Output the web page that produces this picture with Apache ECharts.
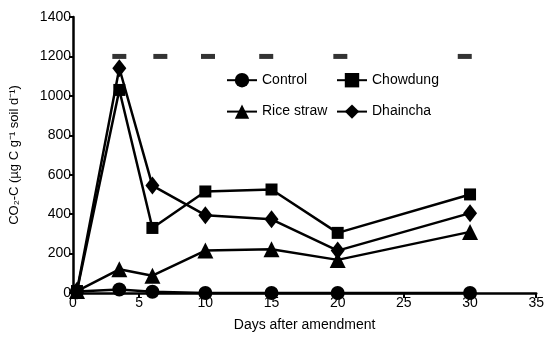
<!DOCTYPE html>
<html>
<head>
<meta charset="utf-8">
<script src="https://cdn.jsdelivr.net/npm/echarts@6/dist/echarts.min.js"></script>
<style>
html,body{margin:0;padding:0;background:#fff;}
#chart{width:547px;height:337px;}
</style>
</head>
<body>
<div id="chart"></div>
<script>
const days = [0.3, 3.5, 6, 10, 15, 20, 30];
const control = [8, 18, 6, 0, 0, 0, 0];
const chowdung = [10, 1030, 330, 515, 525, 305, 500];
const riceStraw = [10, 120, 88, 215, 222, 168, 310];
const dhaincha = [12, 1140, 545, 395, 374, 215, 405];
const sigDays = [3.5, 6.6, 10.2, 14.6, 20.2, 29.6];
const sigValues = [1200, 1200, 1200, 1200, 1200, 1200];
const xTicks = [0, 5, 10, 15, 20, 25, 30, 35];
const yTicks = [0, 200, 400, 600, 800, 1000, 1200, 1400];

const FONT = '"Liberation Sans", Arial, sans-serif';
function pairs(xs, ys){ return xs.map((x,i)=>[x, ys[i]]); }

const lineStyle = {color:'#000', width:2.5};
function mk(name, vals, symbol, size){
  return {
    name, type:'line', data:pairs(days, vals), symbol, symbolSize:size,
    lineStyle, itemStyle:{color:'#000'}, clip:false, z:3
  };
}

const legendText = {fontFamily:FONT, fontSize:14, color:'#000'};
const chart = echarts.init(document.getElementById('chart'), null, {renderer:'canvas'});
chart.setOption({
  animation:false,
  backgroundColor:'#fff',
  grid:{left:71, right:9, top:17, bottom:42, containLabel:false},
  xAxis:{
    type:'value', min:xTicks[0], max:xTicks[xTicks.length-1], interval:5,
    name:'Days after amendment', nameLocation:'middle', nameGap:25,
    nameTextStyle:{fontFamily:FONT, fontSize:14, color:'#000'},
    axisLine:{onZero:false, lineStyle:{color:'#000', width:2.5}},
    axisTick:{show:true, length:5, lineStyle:{color:'#000', width:2}},
    axisLabel:{fontFamily:FONT, fontSize:14, color:'#000', margin:3, formatter:v=>String(v)},
    splitLine:{show:false}
  },
  yAxis:{
    type:'value', min:yTicks[0], max:yTicks[yTicks.length-1], interval:200,
    name:'CO₂-C (µg C g⁻¹ soil d⁻¹)', nameLocation:'middle', nameGap:52, nameRotate:90,
    nameTextStyle:{fontFamily:FONT, fontSize:13, color:'#000'},
    axisLine:{show:true, lineStyle:{color:'#000', width:2.5}},
    axisTick:{show:true, length:4, lineStyle:{color:'#000', width:2}},
    axisLabel:{fontFamily:FONT, fontSize:14, color:'#000', margin:2, formatter:v=>String(v)},
    splitLine:{show:false}
  },
  legend:[
    {data:['Control','Rice straw'], orient:'vertical', left:226, top:73, padding:0,
     itemWidth:30, itemHeight:18, itemGap:17, textStyle:legendText},
    {data:['Chowdung','Dhaincha'], orient:'vertical', left:336, top:73, padding:0,
     itemWidth:30, itemHeight:18, itemGap:17, textStyle:legendText}
  ],
  series:[
    mk('Control', control, 'circle', 14),
    mk('Chowdung', chowdung, 'rect', 12),
    mk('Rice straw', riceStraw, 'triangle', 16),
    mk('Dhaincha', dhaincha, 'diamond', [14,18]),
    {
      name:'LSD', type:'scatter', data:pairs(sigDays, sigValues),
      symbol:'rect', symbolSize:[14,5], itemStyle:{color:'#000'}, z:4
    }
  ]
});
</script>
</body>
</html>
